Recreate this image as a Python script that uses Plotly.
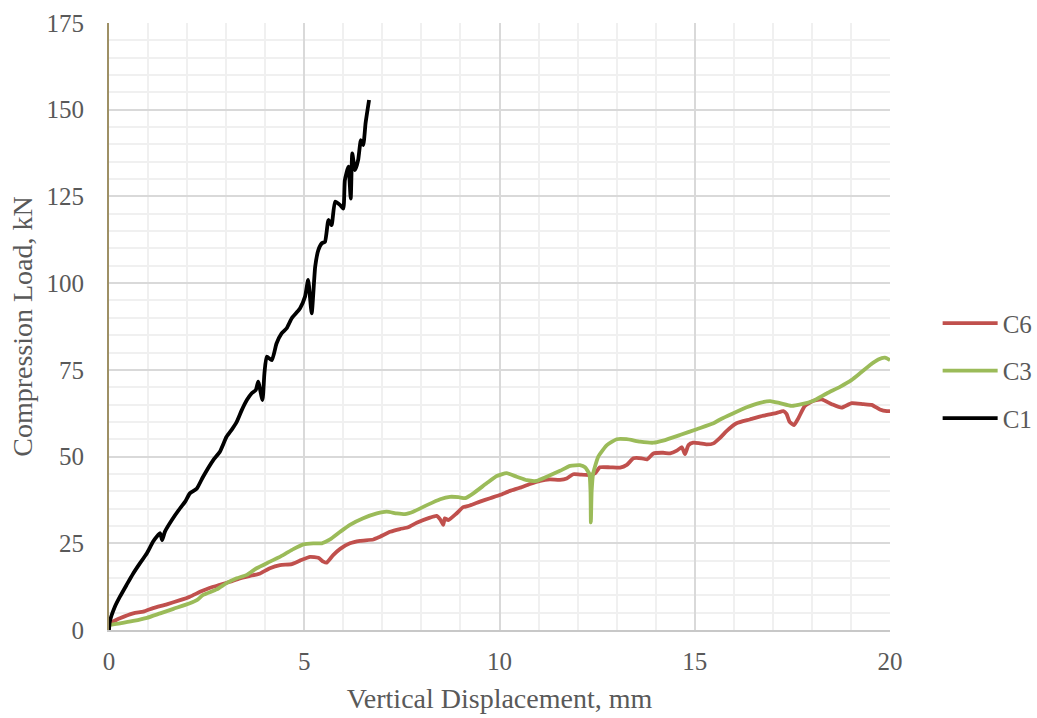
import plotly.graph_objects as go

# ---- data ----
c1_x = [0, 0.02, 0.15, 0.28, 0.45, 0.62, 0.79, 0.97, 1.13, 1.22, 1.31, 1.36, 1.43, 1.61, 1.82, 1.95,
        2.07, 2.25, 2.41, 2.67, 2.84, 3.01, 3.14, 3.27, 3.40, 3.53, 3.65, 3.76, 3.82, 3.93, 3.98,
        4.04, 4.17, 4.29, 4.42, 4.55, 4.68, 4.89, 5.02, 5.10, 5.19, 5.28, 5.36, 5.45, 5.53, 5.62,
        5.70, 5.79, 5.92, 6.00, 6.04, 6.13, 6.19, 6.23, 6.30, 6.38, 6.45, 6.51, 6.57, 6.62, 6.66]
c1_y = [0, 2.4, 6.7, 9.6, 13.0, 16.3, 19.2, 22.1, 25.5, 26.9, 27.9, 25.9, 28.3, 31.7, 35.1, 37.0,
        39.4, 40.8, 44.2, 49.0, 51.4, 55.7, 57.7, 60.0, 63.4, 66.3, 68.2, 69.2, 71.6, 66.3, 74.0,
        78.8, 77.8, 82.6, 85.5, 87.0, 89.9, 92.7, 96.1, 100.9, 91.3, 104.7, 109.5, 111.5, 111.9, 118.2,
        116.7, 123.5, 122.5, 121.5, 129.7, 133.6, 124.4, 137.4, 132.6, 135.5, 141.2, 139.8, 146.1, 149.9, 152.8]

c6_x = [0.0, 0.28, 0.62, 0.88, 1.13, 1.48, 1.82, 2.07, 2.33, 2.59, 2.84, 3.10, 3.35, 3.61, 3.87,
        4.12, 4.38, 4.68, 4.89, 5.15, 5.36, 5.49, 5.57, 5.74, 5.92, 6.17, 6.43, 6.77, 6.94, 7.20,
        7.45, 7.66, 7.88, 8.22, 8.39, 8.48, 8.56, 8.60, 8.69, 8.90, 9.07, 9.24, 9.50, 9.76, 10.01,
        10.27, 10.52, 10.78, 11.04, 11.29, 11.55, 11.72, 11.89, 12.06, 12.32, 12.45, 12.57, 12.83,
        13.09, 13.26, 13.43, 13.64, 13.78, 13.94, 14.19, 14.37, 14.54, 14.67, 14.75, 14.84, 14.96,
        15.13, 15.31, 15.48, 15.64, 15.82, 16.07, 16.41, 16.76, 17.10, 17.27, 17.35, 17.43, 17.54,
        17.65, 17.82, 18.04, 18.25, 18.51, 18.76, 19.02, 19.32, 19.53, 19.74, 19.92, 20.0]
c6_y = [1.9, 3.4, 4.8, 5.3, 6.3, 7.4, 8.6, 9.6, 11.0, 12.2, 13.0, 13.9, 14.9, 15.6, 16.3,
        17.8, 18.7, 19.0, 20.0, 21.1, 20.8, 19.7, 19.4, 21.6, 23.4, 25.0, 25.7, 26.1, 26.9, 28.3,
        29.1, 29.6, 30.9, 32.4, 32.9, 31.9, 30.3, 32.2, 31.7, 33.6, 35.4, 35.9, 37.0, 38.0, 38.9,
        40.1, 41.0, 42.1, 43.0, 43.4, 43.3, 43.7, 44.9, 44.8, 44.7, 45.2, 46.9, 46.9,
        46.8, 47.6, 49.5, 49.5, 49.2, 50.9, 51.1, 50.9, 51.7, 52.7, 50.7, 53.3, 54.0,
        53.8, 53.5, 53.8, 55.3, 57.4, 59.6, 60.7, 61.8, 62.6, 63.1, 62.3, 60.0, 59.1,
        61.0, 64.6, 66.1, 66.5, 65.1, 64.1, 65.4, 65.1, 64.9, 63.6, 63.1, 63.1]

c3_x = [0.0, 0.28, 0.62, 0.97, 1.31, 1.65, 2.07, 2.25, 2.41, 2.76, 3.01, 3.27, 3.53, 3.78, 4.12,
        4.46, 4.72, 4.98, 5.23, 5.45, 5.66, 5.92, 6.17, 6.51, 6.86, 7.11, 7.37, 7.58, 7.79, 8.14,
        8.48, 8.73, 8.95, 9.12, 9.33, 9.67, 9.93, 10.18, 10.44, 10.70, 10.95, 11.21, 11.55, 11.81,
        12.06, 12.19, 12.30, 12.33, 12.34, 12.36, 12.40, 12.53, 12.75, 13.00, 13.26, 13.60, 13.94,
        14.19, 14.62, 15.05, 15.48, 15.65, 15.99, 16.33, 16.67, 16.93, 17.18, 17.48, 17.74, 18.04,
        18.38, 18.72, 19.02, 19.23, 19.49, 19.70, 19.87, 20.0]
c3_y = [1.4, 1.9, 2.6, 3.5, 4.8, 6.1, 7.7, 8.6, 10.1, 11.7, 13.5, 14.9, 15.9, 17.8, 19.7,
        21.6, 23.3, 24.7, 25.0, 25.0, 26.1, 28.3, 30.3, 32.2, 33.6, 34.1, 33.6, 33.4, 34.1, 36.0,
        37.7, 38.4, 38.3, 38.0, 39.4, 42.3, 44.4, 45.2, 44.2, 43.2, 43.0, 44.2, 45.9, 47.3,
        47.5, 46.9, 45.0, 40.0, 31.0, 40.0, 45.2, 50.0, 53.3, 55.0, 55.0, 54.3, 54.0,
        54.6, 56.2, 57.9, 59.6, 60.7, 62.5, 64.2, 65.5, 66.0, 65.4, 64.6, 65.1, 66.1,
        68.2, 70.1, 72.1, 74.0, 76.4, 78.0, 78.5, 77.8]

x_ticks = [0, 5, 10, 15, 20]
y_ticks = [0, 25, 50, 75, 100, 125, 150, 175]

FONT = "Liberation Serif, Times New Roman, serif"
TXT = "#595959"

fig = go.Figure()
series = [("C6", c6_x, c6_y, "#C0504D"), ("C3", c3_x, c3_y, "#9BBB59"), ("C1", c1_x, c1_y, "#000000")]
for name, xs, ys, col in series:
    fig.add_trace(go.Scatter(
        x=xs, y=ys, mode="lines", name=name, legendgroup=name,
        line=dict(color=col, width=3.8, shape="spline", smoothing=0.5),
    ))

fig.update_layout(
    width=1037, height=718,
    margin=dict(l=109, r=147, t=23, b=88, autoexpand=False),
    paper_bgcolor="white", plot_bgcolor="white",
    font=dict(family=FONT, color=TXT, size=25),
    legend=dict(
        x=1.061, y=0.427, xanchor="left", yanchor="middle",
        font=dict(family=FONT, size=25, color=TXT),
        traceorder="grouped", tracegroupgap=12, itemwidth=55,
        bgcolor="rgba(0,0,0,0)",
    ),
    showlegend=True,
)
fig.update_xaxes(
    range=[0, 20], tickvals=x_ticks, ticktext=[str(v) for v in x_ticks],
    showgrid=True, gridcolor="#d9d9d9", gridwidth=1.5,
    minor=dict(dtick=1, showgrid=True, gridcolor="#f0f0f0", gridwidth=1.5),
    showline=True, linecolor="#c8c8c8", linewidth=2, zeroline=False,
    ticks="", ticklabelstandoff=8,
    tickfont=dict(size=25, color=TXT, family=FONT),
    title=dict(text="Vertical Displacement, mm", font=dict(size=28, color=TXT, family=FONT), standoff=14),
)
fig.update_yaxes(
    range=[0, 175], tickvals=y_ticks, ticktext=[str(v) for v in y_ticks],
    showgrid=True, gridcolor="#d9d9d9", gridwidth=1.5,
    minor=dict(dtick=5, showgrid=True, gridcolor="#f0f0f0", gridwidth=1.5),
    showline=True, linecolor="#9e9065", linewidth=2, zeroline=False,
    ticks="", ticklabelstandoff=18,
    tickfont=dict(size=25, color=TXT, family=FONT),
    title=dict(text="Compression Load, kN", font=dict(size=28, color=TXT, family=FONT), standoff=6),
)

fig.write_html("out.html")
